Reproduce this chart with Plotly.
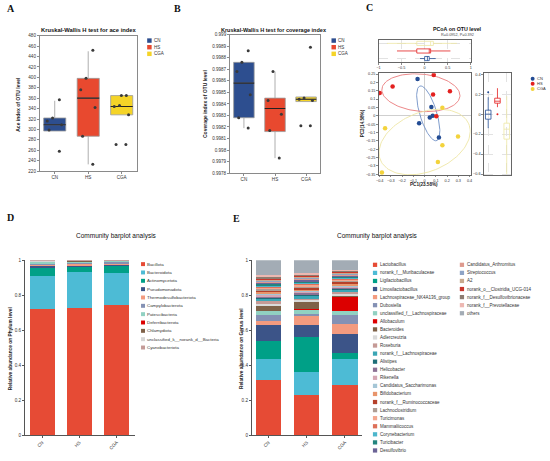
import numpy as np
import plotly.graph_objects as go

W, H = 550, 461
FONT = "Liberation Sans, Arial, sans-serif"
SERIF = "Liberation Serif, Times New Roman, serif"

groups = ["CN", "HS", "CGA"]
box_colors = ["#2D4E8F", "#E8492F", "#F5D427"]
pcoa_colors = ["#234C94", "#E3201F", "#F3D33C"]
ellipse_colors = ["#7191C6", "#EA7A7C", "#EEE7A5"]

# A: ace index (precomputed box stats + samples)
ace_q1 = [297, 287, 328]
ace_median = [309, 360, 344]
ace_q3 = [322, 398, 365]
ace_low = [297, 233, 328]
ace_high = [355, 450, 365]
ace_cn = [357, 322, 316, 309, 299, 258]
ace_hs = [452, 398, 376, 342, 287, 233]
ace_cga = [365, 365, 346, 344, 328, 271, 271]

# B: coverage index
cov_q1 = [0.99828, 0.99816, 0.99842]
cov_median = [0.99858, 0.99836, 0.99844]
cov_q3 = [0.99876, 0.99845, 0.99846]
cov_low = [0.99819, 0.99793, 0.99842]
cov_high = [0.99876, 0.99868, 0.99846]
cov_cn = [0.99886, 0.99876, 0.99868, 0.99848, 0.99828, 0.99819]
cov_hs = [0.99868, 0.99843, 0.99831, 0.99817, 0.99793]
cov_cga = [0.99889, 0.99845, 0.99844, 0.99843, 0.99821, 0.99821]

# C: PCoA
pc1_cn = [-0.063, 0.060, 0.046, 0.072, -0.049, 0.127]
pc2_cn = [0.220, 0.053, -0.010, 0.000, -0.045, -0.130]
pc1_hs = [0.081, -0.285, -0.400, 0.075, 0.225, 0.104]
pc2_hs = [0.245, 0.176, 0.137, 0.127, 0.147, -0.002]
pc1_cga = [0.158, -0.352, 0.297, 0.158, 0.118, -0.380]
pc2_cga = [0.049, -0.075, -0.124, -0.176, -0.276, -0.340]

top_q1 = [0.00, -0.17, -0.17]
top_median = [0.06, 0.10, 0.13]
top_q3 = [0.10, 0.13, 0.19]
top_low = [-0.10, -0.60, -0.82]
top_high = [0.24, 0.56, 0.70]

right_q1 = [-0.05, 0.11, -0.25]
right_median = [0.00, 0.13, -0.15]
right_q3 = [0.04, 0.16, -0.09]
right_low = [-0.14, 0.07, -0.60]
right_high = [0.17, 0.26, 0.18]
right_out_groups = ["CN", "HS"]
right_out_values = [0.22, 0.00]

# D: phylum level
phylum_names = ["Bacillota", "Bacteroidota", "Actinomycetota", "Pseudomonadota",
                "Thermodesulfobacteriota", "Campylobacterota", "Patescibacteria",
                "Deferribacterota", "Chlamydiota", "unclassified_k__norank_d__Bacteria",
                "Cyanobacteriota"]
phylum_colors = ["#E64B35", "#4DBBD5", "#00A087", "#3C5488", "#F39B7F", "#8491B4",
                 "#91D1C2", "#DC0000", "#7E6148", "#D6D6D6", "#C49B98"]
phylum_cn = [0.722, 0.188, 0.043, 0.013, 0.006, 0.010, 0.008, 0.002, 0.001, 0.002, 0.005]
phylum_hs = [0.726, 0.208, 0.026, 0.010, 0.009, 0.006, 0.008, 0.001, 0.001, 0.002, 0.003]
phylum_cga = [0.745, 0.184, 0.041, 0.007, 0.004, 0.008, 0.006, 0.001, 0.001, 0.001, 0.002]

# E: genus level
genus_names = ["Lactobacillus", "norank_f__Muribaculaceae", "Ligilactobacillus",
               "Limosilactobacillus", "Lachnospiraceae_NK4A136_group", "Dubosiella",
               "unclassified_f__Lachnospiraceae", "Allobaculum", "Bacteroides",
               "Adlercreutzia", "Roseburia", "norank_f__Lachnospiraceae", "Alistipes",
               "Helicobacter", "Rikenella", "Candidatus_Saccharimonas", "Bifidobacterium",
               "norank_f__Ruminococcaceae", "Lachnoclostridium", "Turicimonas",
               "Mammaliicoccus", "Corynebacterium", "Turicibacter", "Desulfovibrio",
               "Candidatus_Arthromitus", "Streptococcus", "A2",
               "norank_o__Clostridia_UCG-014", "norank_f__Desulfovibrionaceae",
               "norank_f__Prevotellaceae", "others"]
genus_colors = ["#E64B35", "#4DBBD5", "#00A087", "#3C5488", "#F39B7F", "#8491B4",
                "#91D1C2", "#DC0000", "#7E6148", "#DADADA", "#C59A96", "#3AA6B5",
                "#1E6E77", "#8C7194", "#D5A7B4", "#A5C6D6", "#E8956B", "#B5402A",
                "#AE9D94", "#F4A78E", "#DD7059", "#4CB6CC", "#23857E", "#6B6396",
                "#DE9A8E", "#8EA4C6", "#C8AA8E", "#C9372C", "#8D7C70", "#EDB8B2",
                "#A3ACB5"]
genus_cn = [0.317, 0.120, 0.103, 0.092, 0.023, 0.030, 0.025, 0.002, 0.025, 0.015,
            0.012, 0.014, 0.010, 0.006, 0.008, 0.007, 0.012, 0.006, 0.008, 0.010,
            0.004, 0.006, 0.012, 0.005, 0.008, 0.004, 0.006, 0.004, 0.010, 0.010,
            0.086]
genus_hs = [0.230, 0.130, 0.200, 0.072, 0.048, 0.015, 0.025, 0.003, 0.037, 0.012,
            0.008, 0.016, 0.008, 0.010, 0.006, 0.008, 0.006, 0.010, 0.006, 0.008,
            0.005, 0.007, 0.010, 0.006, 0.006, 0.008, 0.006, 0.004, 0.008, 0.006,
            0.076]
genus_cga = [0.287, 0.146, 0.037, 0.106, 0.062, 0.047, 0.026, 0.079, 0.006, 0.014,
             0.010, 0.012, 0.006, 0.006, 0.006, 0.006, 0.008, 0.012, 0.006, 0.008,
             0.004, 0.005, 0.006, 0.005, 0.008, 0.004, 0.006, 0.006, 0.006, 0.005,
             0.055]


def xdom(a, b):
    return [a / W, b / W]


def ydom(top, bottom):
    return [1 - bottom / H, 1 - top / H]


def ellipse(xs, ys, scale=1.4):
    pts = np.column_stack([xs, ys])
    mu = pts.mean(axis=0)
    vals, vecs = np.linalg.eigh(np.cov(pts, rowvar=False))
    t = np.linspace(0, 2 * np.pi, 120)
    ring = vecs @ (np.sqrt(vals)[:, None] * np.vstack([np.cos(t), np.sin(t)])) * scale
    return mu[0] + ring[0], mu[1] + ring[1]


fig = go.Figure()
annotations = []
shapes = []


def text(x, y, s, size, bold=False, angle=0, xanchor="center", family=FONT, color="#222"):
    annotations.append(dict(
        x=x / W, y=1 - y / H, xref="paper", yref="paper", showarrow=False,
        text=f"<b>{s}</b>" if bold else s, textangle=angle, borderpad=0,
        xanchor=xanchor, yanchor="middle",
        font=dict(family=family, size=size, color=color)))


def legend(names, colors, x, y0, step, size, font_size, symbol="rect"):
    for i, (n, c) in enumerate(zip(names, colors)):
        yc = y0 + i * step
        shapes.append(dict(type=symbol, xref="paper", yref="paper",
                           x0=x / W, x1=(x + size) / W,
                           y0=1 - (yc + size / 2) / H, y1=1 - (yc - size / 2) / H,
                           fillcolor=c, line=dict(width=0)))
        text(x + size + 1.5, yc, n, font_size, xanchor="left", color="#333")


# ---- A & B: box plots
def box_panel(xa, ya, q1, med, q3, low, high, samples):
    for i, g in enumerate(groups):
        fig.add_trace(go.Box(
            x=[g], q1=[q1[i]], median=[med[i]], q3=[q3[i]],
            lowerfence=[low[i]], upperfence=[high[i]], width=0.66, whiskerwidth=0,
            fillcolor=box_colors[i], line=dict(color="#9a9a9a", width=0.8),
            xaxis=xa, yaxis=ya, showlegend=False, hoverinfo="skip"))
        fig.add_trace(go.Box(
            x=[g], q1=[med[i]], median=[med[i]], q3=[med[i]],
            lowerfence=[med[i]], upperfence=[med[i]], width=0.66, whiskerwidth=0,
            fillcolor="rgba(0,0,0,0)", line=dict(color="#222", width=1.1),
            xaxis=xa, yaxis=ya, showlegend=False, hoverinfo="skip"))
        fig.add_trace(go.Box(
            x=[g] * len(samples[i]), y=samples[i], boxpoints="all", jitter=0.8,
            pointpos=0, width=0.66, fillcolor="rgba(0,0,0,0)",
            line=dict(width=0, color="rgba(0,0,0,0)"),
            marker=dict(color="#3a3a3a", size=3),
            xaxis=xa, yaxis=ya, showlegend=False, hoverinfo="skip"))


box_panel("x", "y", ace_q1, ace_median, ace_q3, ace_low, ace_high, [ace_cn, ace_hs, ace_cga])
box_panel("x2", "y2", cov_q1, cov_median, cov_q3, cov_low, cov_high, [cov_cn, cov_hs, cov_cga])

# ---- C: PCoA
pc1_sets = [pc1_cn, pc1_hs, pc1_cga]
pc2_sets = [pc2_cn, pc2_hs, pc2_cga]
for i, g in enumerate(groups):
    ex, ey = ellipse(pc1_sets[i], pc2_sets[i])
    fig.add_trace(go.Scatter(x=ex, y=ey, mode="lines", xaxis="x4", yaxis="y4",
                             line=dict(color=ellipse_colors[i], width=0.9),
                             showlegend=False, hoverinfo="skip"))
for i, g in enumerate(groups):
    fig.add_trace(go.Scatter(x=pc1_sets[i], y=pc2_sets[i], mode="markers",
                             xaxis="x4", yaxis="y4", name=g,
                             marker=dict(color=pcoa_colors[i], size=4.5),
                             showlegend=False))
    fig.add_trace(go.Box(
        y=[g], q1=[top_q1[i]], median=[top_median[i]], q3=[top_q3[i]],
        lowerfence=[top_low[i]], upperfence=[top_high[i]], orientation="h",
        width=0.55, whiskerwidth=0, fillcolor="rgba(255,255,255,0)",
        line=dict(color=pcoa_colors[i] if i < 2 else ellipse_colors[i], width=0.8),
        xaxis="x3", yaxis="y3", showlegend=False, hoverinfo="skip"))
    fig.add_trace(go.Box(
        x=[g], q1=[right_q1[i]], median=[right_median[i]], q3=[right_q3[i]],
        lowerfence=[right_low[i]], upperfence=[right_high[i]],
        width=0.6, whiskerwidth=0, fillcolor="rgba(255,255,255,0)",
        line=dict(color=pcoa_colors[i] if i < 2 else ellipse_colors[i], width=0.8),
        xaxis="x5", yaxis="y5", showlegend=False, hoverinfo="skip"))
fig.add_trace(go.Scatter(x=right_out_groups, y=right_out_values, mode="markers",
                         xaxis="x5", yaxis="y5", showlegend=False,
                         marker=dict(color=[pcoa_colors[0], pcoa_colors[1]], size=2)))

# ---- D & E: stacked bars
for name, c, a, b, d in zip(phylum_names, phylum_colors, phylum_cn, phylum_hs, phylum_cga):
    fig.add_trace(go.Bar(x=groups, y=[a, b, d], name=name, marker=dict(color=c, line=dict(width=0)),
                         width=0.66, xaxis="x6", yaxis="y6", showlegend=False))
for name, c, a, b, d in zip(genus_names, genus_colors, genus_cn, genus_hs, genus_cga):
    fig.add_trace(go.Bar(x=groups, y=[a, b, d], name=name, marker=dict(color=c, line=dict(width=0)),
                         width=0.66, xaxis="x7", yaxis="y7", showlegend=False))

tick_font = dict(family=FONT, size=4.6, color="#333")
small_font = dict(family=FONT, size=3.8, color="#333")
frame = dict(showline=True, mirror=True, linecolor="#8a8a8a", linewidth=0.6,
             ticks="outside", ticklen=2, tickwidth=0.5, tickcolor="#8a8a8a",
             tickfont=tick_font, showgrid=False, zeroline=False, tickangle=0)
cframe = {**frame, "tickfont": small_font, "ticklen": 1.5, "linecolor": "#666"}
plain = dict(showline=True, mirror=False, linecolor="#555", linewidth=0.6,
             ticks="outside", ticklen=2, tickwidth=0.5, tickcolor="#555",
             tickfont=tick_font, showgrid=False, zeroline=False)
cat = dict(type="category", categoryorder="array", categoryarray=groups)
dash_grid = dict(showgrid=True, gridcolor="#e2e2e2", gridwidth=0.5, griddash="dash")
zero = dict(zeroline=True, zerolinecolor="#cfcfcf", zerolinewidth=0.6)

fig.update_layout(
    width=W, height=H, margin=dict(l=0, r=0, t=0, b=0),
    paper_bgcolor="white", plot_bgcolor="white",
    barmode="stack", boxmode="overlay", showlegend=False,
    xaxis=dict(domain=xdom(37, 135), anchor="y", range=[-0.45, 2.45], **cat, **frame),
    yaxis=dict(domain=ydom(34, 171), anchor="x", range=[220, 480], tick0=220, dtick=20, **frame),
    xaxis2=dict(domain=xdom(229, 320), anchor="y2", range=[-0.45, 2.45], **cat, **frame),
    yaxis2=dict(domain=ydom(33, 173), anchor="x2", range=[0.9978, 0.999], tick0=0.9978,
                dtick=0.0001, **frame),
    xaxis3=dict(domain=xdom(379, 472), anchor="y3", range=[-1, 1], dtick=0.5,
                **{**cframe, **dash_grid}),
    yaxis3=dict(domain=ydom(38, 61), anchor="x3", range=[-0.5, 2.5], showticklabels=False,
                **cat, **{**cframe, **dash_grid, "ticks": ""}),
    xaxis4=dict(domain=xdom(379, 472), anchor="y4", range=[-0.41, 0.41], dtick=0.1,
                **{**cframe, **zero}),
    yaxis4=dict(domain=ydom(72, 175), anchor="x4", range=[-0.355, 0.255], dtick=0.05,
                **{**cframe, **zero}),
    xaxis5=dict(domain=xdom(485, 513), anchor="y5", range=[-0.5, 2.5], showticklabels=False,
                **cat, **{**cframe, **dash_grid, "ticks": ""}),
    yaxis5=dict(domain=ydom(72, 175), anchor="x5", range=[-0.61, 0.41], dtick=0.2,
                **{**cframe, **dash_grid}),
    xaxis6=dict(domain=xdom(22, 133), anchor="y6", range=[-0.47, 2.49], tickangle=-45, **cat, **plain),
    yaxis6=dict(domain=ydom(261, 438), anchor="x6", range=[0, 1], dtick=0.2, **plain),
    xaxis7=dict(domain=xdom(251, 362), anchor="y7", range=[-0.44, 2.44], tickangle=-45, **cat, **plain),
    yaxis7=dict(domain=ydom(261, 438), anchor="x7", range=[0, 1], dtick=0.2, **plain),
)

# panel letters
for letter, x, y in [("A", 8, 7), ("B", 176, 7), ("C", 370, 6), ("D", 8, 218), ("E", 236, 219)]:
    text(x, y, letter, 10, bold=True, family=SERIF, color="#111")

# titles
text(87, 28, "Kruskal-Wallis H test for ace index", 5.8, bold=True, color="#111")
text(273, 28, "Kruskal-Wallis H test for coverage index", 5.5, bold=True, color="#111")
text(459, 27, "PCoA on OTU level", 5.3, bold=True, color="#111")
text(459, 33.5, "R=0.0952, P=0.392", 3.8, color="#444")
text(115, 237, "Community barplot analysis", 6.5, color="#111")
text(378, 237, "Community barplot analysis", 6.5, color="#111")

# axis titles
text(15, 103, "Ace index of OTU level", 5, bold=True, angle=-90)
text(204, 103, "Coverage index of OTU level", 5, bold=True, angle=-90)
text(425, 184, "PC1(23.58%)", 4.6, bold=True)
text(363, 123, "PC2(14.58%)", 4.6, bold=True, angle=-90)
text(7, 350, "Relative abundance on Phylum level", 4.8, bold=True, angle=-90)
text(240, 350, "Relative abundance on Genus level", 4.8, bold=True, angle=-90)

# legends
legend(groups, box_colors, 145.5, 39, 6.7, 4.5, 4.5)
legend(groups, box_colors, 331.5, 39, 6.7, 4.5, 4.5)
legend(groups, pcoa_colors, 532.5, 77.5, 5.2, 4, 4, symbol="circle")
legend(phylum_names, phylum_colors, 139.3, 265, 8.43, 4, 4.4)
legend(genus_names[:24], genus_colors[:24], 373.3, 265.7, 8.16, 4.3, 4.5)
legend(genus_names[24:], genus_colors[24:], 461, 265.7, 8.16, 4.3, 4.5)

fig.update_layout(annotations=annotations, shapes=shapes)
# the page body has a default 8px margin; drop it so the figure sits at the corner
fig.write_html("out.html", config={"displayModeBar": False},
               post_script="document.body.style.margin='0';")
